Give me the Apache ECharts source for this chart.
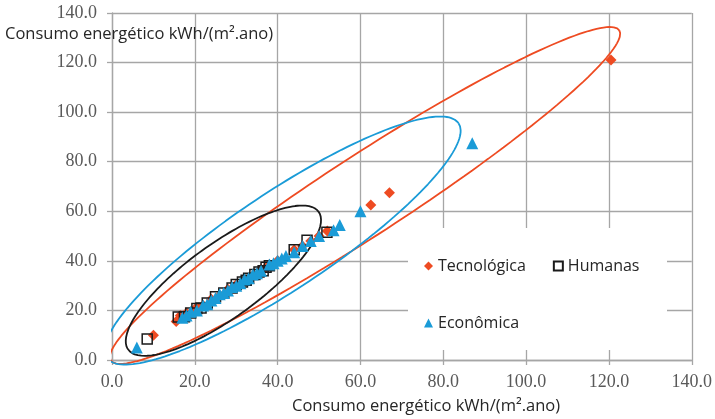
<!DOCTYPE html>
<html>
<head>
<meta charset="utf-8">
<script src="https://cdn.jsdelivr.net/npm/echarts@6/dist/echarts.min.js"></script>
<style>html,body{margin:0;padding:0;background:#fff;}#c{width:715px;height:419px;}</style>
</head>
<body>
<div id="c"></div>
<script>
// ---- data ----
var axisTicks = [0, 20, 40, 60, 80, 100, 120, 140];
var seriesNames = ['Tecnológica', 'Humanas', 'Econômica'];
var axisTitle = 'Consumo energético kWh/(m².ano)';

var tecnologica = [
  [10,10],[15.5,15.5],[16.5,18],[18,19],[20,20.5],[21,21],[22,22],[24,24.5],[26,26],
  [28,28.5],[30,30.5],[32,32],[34,34],[36,36.5],[37,37],[38,38.5],[40,40],[44,44.5],
  [46,46],[48,48],[50,50],[52,52],[62.5,62.5],[67,67.5],[120.5,121]
];
var humanas = [
  [8.5,8.5],[16,17.3],[17.5,17.5],[19,19],[20.5,20.8],[21.5,21],[23,23],[25,25.5],[27,27],
  [29,29],[30,30.5],[31.5,31.5],[32.4,32.2],[33,33],[34.5,34.5],[35.5,35.5],[36.5,36],
  [37.2,37.4],[38,38],[44,44.5],[47.1,48.3],[51.9,51.5]
];
var economica = [
  [6,5],[17,17],[18,18],[19,19.5],[20.5,20],[22,22],[23,22.5],[24,24],[25,25],[26,26.5],
  [27,27],[28,28],[29,29.5],[30,30],[31,31],[32,32.5],[33,33],[34,34.5],[35,35],[36,36],
  [38,38.5],[39,39],[40,40],[41,41],[42,42],[44,43.5],[46,46],[48,48],[50,50],
  [53.5,52.3],[55,54.5],[60,60],[87,87.5]
];

// ellipses (data units): centre, major semi-axis vector, conjugate semi-axis vector
var ellipseRedCentre = [61.1, 66.4], ellipseRedMajor = [61.4, 66.6], ellipseRedMinor = [5.2, -13.5];
var ellipseBlueCentre = [41.2, 48.2], ellipseBlueMajor = [42.5, 47.3], ellipseBlueMinor = [6.5, -16.3];
var ellipseBlackCentre = [26.9, 32.0], ellipseBlackMajor = [23.0, 27.8], ellipseBlackMinor = [5.2, -12.1];

function ellipsePoints(c, u, v) {
  var pts = [];
  for (var i = 0; i <= 180; i++) {
    var t = i / 180 * 2 * Math.PI;
    pts.push([c[0] + u[0] * Math.cos(t) + v[0] * Math.sin(t), c[1] + u[1] * Math.cos(t) + v[1] * Math.sin(t)]);
  }
  return pts;
}

var RED = '#EE4B22', BLUE = '#1A9BD7', BLACK = '#1a1a1a', GRID = '#a6a6a6';
var labelStyle = { fontFamily: 'Liberation Serif', fontSize: 18, color: '#595959' };
var sansStyle = { fontFamily: 'Open Sans', fontSize: 16.5, fontWeight: 'normal', color: '#262626' };

function valAxis(margin) {
  return {
    type: 'value', min: axisTicks[0], max: axisTicks[axisTicks.length - 1], interval: 20,
    axisLine: { show: true, lineStyle: { color: GRID, width: 1.3 } },
    axisTick: { show: true, length: 5, lineStyle: { color: GRID, width: 1.3 } },
    splitLine: { show: true, lineStyle: { color: GRID, width: 1.3 } },
    axisLabel: Object.assign({ margin: margin, formatter: function (v) { return v.toFixed(1); } }, labelStyle)
  };
}

function ellipseSeries(pts, color) {
  return {
    type: 'line', data: pts, showSymbol: false, silent: true, smooth: false, clip: false,
    lineStyle: { color: color, width: 1.8 }, z: 3, animation: false
  };
}

var chart = echarts.init(document.getElementById('c'));
chart.setOption({
  backgroundColor: '#fff',
  animation: false,
  grid: { left: 112, right: 20, top: 13, bottom: 59 },
  title: [
    { text: axisTitle, left: 5, top: 26, padding: 0, textStyle: sansStyle },
    { text: axisTitle, left: 292, top: 398, padding: 0, textStyle: sansStyle }
  ],
  graphic: [
    { type: 'rect', z: 1, shape: { x: 408, y: 228, width: 259, height: 122 }, style: { fill: '#fff' } }
  ],
  legend: [
    { data: [seriesNames[0], seriesNames[1]], left: 419, top: 253, itemWidth: 9, itemHeight: 9, itemGap: 27,
      textStyle: { fontFamily: 'Open Sans', fontSize: 16, color: '#262626' } },
    { data: [seriesNames[2]], left: 419, top: 310, itemWidth: 9, itemHeight: 9,
      textStyle: { fontFamily: 'Open Sans', fontSize: 16, color: '#262626' } }
  ],
  xAxis: valAxis(13),
  yAxis: valAxis(15),
  series: [
    ellipseSeries(ellipsePoints(ellipseRedCentre, ellipseRedMajor, ellipseRedMinor), RED),
    ellipseSeries(ellipsePoints(ellipseBlueCentre, ellipseBlueMajor, ellipseBlueMinor), BLUE),
    { name: seriesNames[0], type: 'scatter', data: tecnologica, symbol: 'diamond', symbolSize: 11,
      itemStyle: { color: RED, opacity: 1 }, z: 4 },
    { name: seriesNames[1], type: 'scatter', data: humanas, symbol: 'rect', symbolSize: 10,
      itemStyle: { color: 'rgba(255,255,255,0)', borderColor: BLACK, borderWidth: 1.5, opacity: 1 }, z: 5 },
    { name: seriesNames[2], type: 'scatter', data: economica, symbol: 'triangle', symbolSize: 12,
      itemStyle: { color: BLUE, opacity: 1 }, z: 6 },
    ellipseSeries(ellipsePoints(ellipseBlackCentre, ellipseBlackMajor, ellipseBlackMinor), BLACK)
  ]
});
</script>
</body>
</html>
